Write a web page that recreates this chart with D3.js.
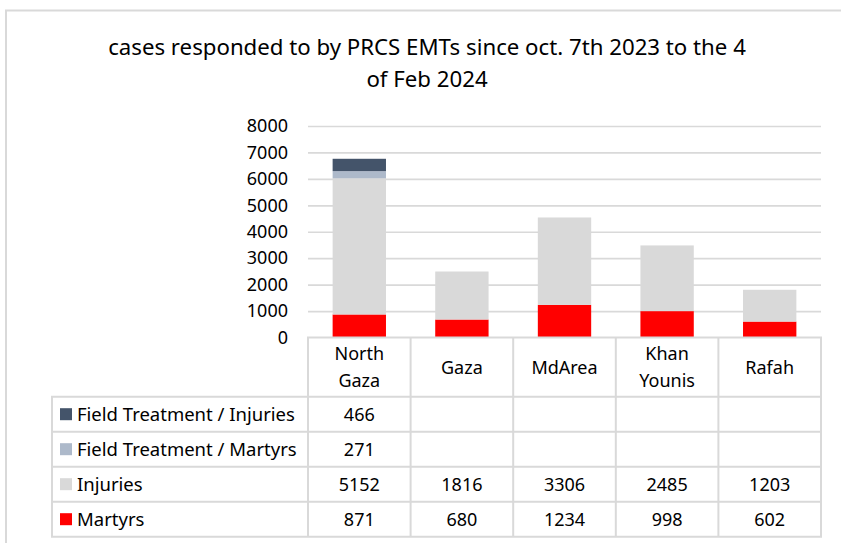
<!DOCTYPE html>
<html>
<head>
<meta charset="utf-8">
<script src="https://cdn.jsdelivr.net/npm/d3@7"></script>
<style>
  html, body { margin: 0; padding: 0; background: #fff; }
  svg { display: block; font-family: "Noto Sans", "Open Sans", sans-serif; }
</style>
</head>
<body>
<svg id="chart" width="841" height="543"></svg>
<script>
// ---- Data ----
const titleLines = ["cases responded to by PRCS EMTs since oct. 7th 2023 to the 4", "of Feb 2024"];
const categories = ["North Gaza", "Gaza", "MdArea", "Khan Younis", "Rafah"];
const categoryLines = [["North", "Gaza"], ["Gaza"], ["MdArea"], ["Khan", "Younis"], ["Rafah"]];
const martyrs = [871, 680, 1234, 998, 602];
const injuries = [5152, 1816, 3306, 2485, 1203];
const ftMartyrs = [271, null, null, null, null];
const ftInjuries = [466, null, null, null, null];
const seriesNames = ["Martyrs", "Injuries", "Field Treatment / Martyrs", "Field Treatment / Injuries"];
const seriesColors = ["#FF0000", "#D9D9D9", "#ADB9CA", "#44546A"];
const yTicks = [0, 1000, 2000, 3000, 4000, 5000, 6000, 7000, 8000];

const seriesValues = [martyrs, injuries, ftMartyrs, ftInjuries];
const rows = categories.map((c, i) => {
  const o = { category: c };
  seriesNames.forEach((s, j) => { o[s] = seriesValues[j][i] || 0; });
  return o;
});

// ---- Layout ----
const svg = d3.select("#chart");
const plotLeft = 308, plotRight = 821, plotTop = 126, plotBottom = 337.5;
const tableLeft = 52, headerBottom = 396.7, rowH = 35;

// outer frame
svg.append("rect").attr("x", 6).attr("y", 10.5).attr("width", 850).attr("height", 560)
  .attr("fill", "none").attr("stroke", "#D9D9D9").attr("stroke-width", 2);

// title
const title = svg.append("g");
titleLines.forEach((t, i) => {
  title.append("text").attr("x", 427).attr("y", i === 0 ? 55 : 86.5)
    .attr("text-anchor", "middle").attr("font-size", 21).attr("fill", "#000").text(t);
});
// fit title line 1 to width
(function () {
  const n = title.select("text").node();
  const w = n.getComputedTextLength();
  const target = 638;
  const fs = 21 * target / w;
  title.selectAll("text").attr("font-size", fs);
})();

const x = d3.scaleBand().domain(categories).range([plotLeft, plotRight]).paddingInner(0.48).paddingOuter(0.24);
const xCell = d3.scaleBand().domain(categories).range([plotLeft, plotRight]);
const y = d3.scaleLinear().domain([0, 8000]).range([plotBottom, plotTop]);

// gridlines
const grid = svg.append("g").attr("transform", `translate(${plotLeft},0)`)
  .call(d3.axisLeft(y).tickValues(yTicks.filter(v => v > 0)).tickSize(-(plotRight - plotLeft)).tickFormat(""));
grid.select(".domain").remove();
grid.selectAll("line").attr("stroke", "#D9D9D9").attr("stroke-width", 1.7);

// y labels
const yAxis = svg.append("g").attr("transform", `translate(${plotLeft},0)`)
  .call(d3.axisLeft(y).tickValues(yTicks).tickSize(0).tickPadding(20).tickFormat(d3.format("d")));
yAxis.select(".domain").remove();
yAxis.selectAll("text").attr("font-size", 18).attr("fill", "#000").attr("font-family", "Noto Sans, sans-serif");

// stacked bars
const stack = d3.stack().keys(seriesNames)(rows);
svg.append("g").selectAll("g").data(stack).join("g")
  .attr("fill", (d, i) => seriesColors[i])
  .selectAll("rect").data(d => d.filter(p => p[1] > p[0])).join("rect")
  .attr("x", d => x(d.data.category))
  .attr("width", x.bandwidth())
  .attr("y", d => y(d[1]))
  .attr("height", d => y(d[0]) - y(d[1]));

// ---- Data table ----
const table = svg.append("g");
const lineColor = "#D9D9D9";
const tableRows = seriesNames.slice().reverse(); // top row: FT/Injuries
const tableColors = seriesColors.slice().reverse();
const tableVals = seriesValues.slice().reverse();
const tableBottom = headerBottom + rowH * tableRows.length;

function hline(x1, x2, yy) {
  table.append("line").attr("x1", x1).attr("x2", x2).attr("y1", yy).attr("y2", yy)
    .attr("stroke", lineColor).attr("stroke-width", 2);
}
function vline(xx, y1, y2) {
  table.append("line").attr("x1", xx).attr("x2", xx).attr("y1", y1).attr("y2", y2)
    .attr("stroke", lineColor).attr("stroke-width", 2);
}
hline(plotLeft - 1, plotRight + 1, plotBottom);
for (let r = 0; r <= tableRows.length; r++) hline(tableLeft - 1, plotRight + 1, headerBottom + r * rowH);
vline(tableLeft, headerBottom, tableBottom);
categories.forEach(c => vline(xCell(c), plotBottom, tableBottom));
vline(plotRight, plotBottom, tableBottom);

// header labels
categories.forEach((c, i) => {
  const lines = categoryLines[i];
  const cx = xCell(c) + xCell.bandwidth() / 2;
  const baseYs = lines.length === 2 ? [360, 386.5] : [374];
  lines.forEach((l, k) => {
    table.append("text").attr("x", cx).attr("y", baseYs[k]).attr("text-anchor", "middle")
      .attr("font-size", 18).attr("fill", "#000").text(l);
  });
});

// rows
tableRows.forEach((name, r) => {
  const top = headerBottom + r * rowH;
  const mid = top + rowH / 2;
  table.append("rect").attr("x", 60).attr("y", mid - 6).attr("width", 12).attr("height", 12)
    .attr("fill", tableColors[r]);
  table.append("text").attr("x", 77).attr("y", mid + 6.5).attr("font-size", 18.5).attr("fill", "#000").text(name);
  categories.forEach((c, i) => {
    const v = tableVals[r][i];
    if (v == null) return;
    table.append("text").attr("x", xCell(c) + xCell.bandwidth() / 2).attr("y", mid + 6.5)
      .attr("text-anchor", "middle").attr("font-size", 18).attr("fill", "#000").text(v);
  });
});
</script>
</body>
</html>
